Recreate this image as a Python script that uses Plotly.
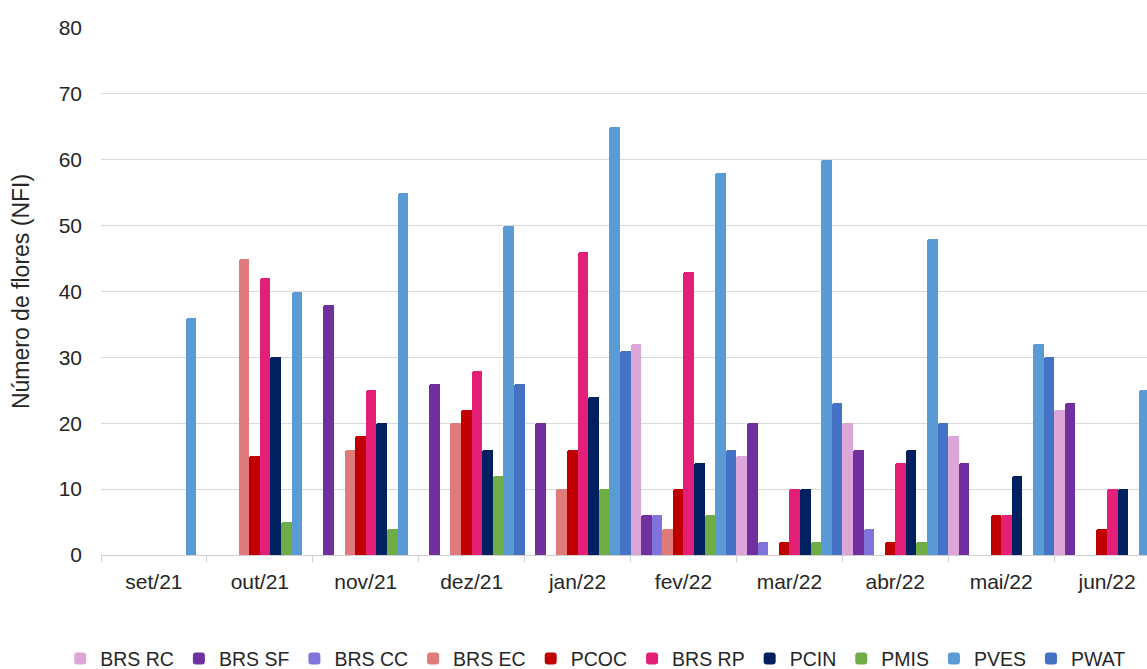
import plotly.graph_objects as go

categories = ["set/21", "out/21", "nov/21", "dez/21", "jan/22",
              "fev/22", "mar/22", "abr/22", "mai/22", "jun/22"]

brs_rc = [0, 0, 0, 0, 0, 32, 15, 20, 18, 22]
brs_sf = [0, 0, 38, 26, 20, 6, 20, 16, 14, 23]
brs_cc = [0, 0, 0, 0, 0, 6, 2, 4, 0, 0]
brs_ec = [0, 45, 16, 20, 10, 4, 0, 0, 0, 0]
pcoc = [0, 15, 18, 22, 16, 10, 2, 2, 6, 4]
brs_rp = [0, 42, 25, 28, 46, 43, 10, 14, 6, 10]
pcin = [0, 30, 20, 16, 24, 14, 10, 16, 12, 10]
pmis = [0, 5, 4, 12, 10, 6, 2, 2, 0, 0]
pves = [36, 40, 55, 50, 65, 58, 60, 48, 32, 25]
pwat = [0, 0, 0, 26, 31, 16, 23, 20, 30, 26]

series_names = ["BRS RC", "BRS SF", "BRS CC", "BRS EC", "PCOC",
                "BRS RP", "PCIN", "PMIS", "PVES", "PWAT"]
series_values = [brs_rc, brs_sf, brs_cc, brs_ec, pcoc,
                 brs_rp, pcin, pmis, pves, pwat]
series_colors = ["#DCA7D8", "#7030A0", "#8073D9", "#E07B7B", "#C00000",
                 "#E41F78", "#002060", "#70AD47", "#5B9BD5", "#4472C4"]

y_title = "Número de flores (NFI)"

FONT = "Liberation Sans, Arial, sans-serif"
TXT = "#262626"

fig = go.Figure()
for name, vals, col in zip(series_names, series_values, series_colors):
    fig.add_trace(go.Bar(name=name, x=categories, y=vals,
                         marker=dict(color=col, line=dict(width=0))))

fig.update_layout(
    width=1147, height=669,
    barmode="group", bargap=0, bargroupgap=0, barcornerradius=2,
    paper_bgcolor="white", plot_bgcolor="white",
    margin=dict(l=101, r=0, t=28, b=114, autoexpand=False),
    font=dict(family=FONT, size=20, color=TXT),
    showlegend=True,
    legend=dict(orientation="h", x=-0.039, xanchor="left",
                y=-0.197, yanchor="middle",
                font=dict(family=FONT, size=19.5, color=TXT),
                itemwidth=30, traceorder="normal"),
)

fig.update_xaxes(
    type="category", range=[-0.5, 9.377], automargin=False,
    showline=True, linecolor="#D0D0D0", linewidth=1,
    ticks="outside", tickson="boundaries", ticklen=6, tickcolor="#D0D0D0",
    tickfont=dict(family=FONT, size=21, color=TXT),
    ticklabelstandoff=8,
    showgrid=False,
)
fig.update_yaxes(
    range=[0, 80], dtick=10, automargin=False,
    showgrid=True, gridcolor="#D9D9D9", gridwidth=1,
    zeroline=False, showline=False,
    tickfont=dict(family=FONT, size=21, color=TXT),
    ticklabelstandoff=18,
    title=dict(text=y_title, font=dict(family=FONT, size=23, color=TXT),
               standoff=22),
)

fig.write_html(
    "out.html",
    config={"displayModeBar": False},
    post_script="document.body.style.margin='0px';"
                "document.body.style.overflow='hidden';",
)
